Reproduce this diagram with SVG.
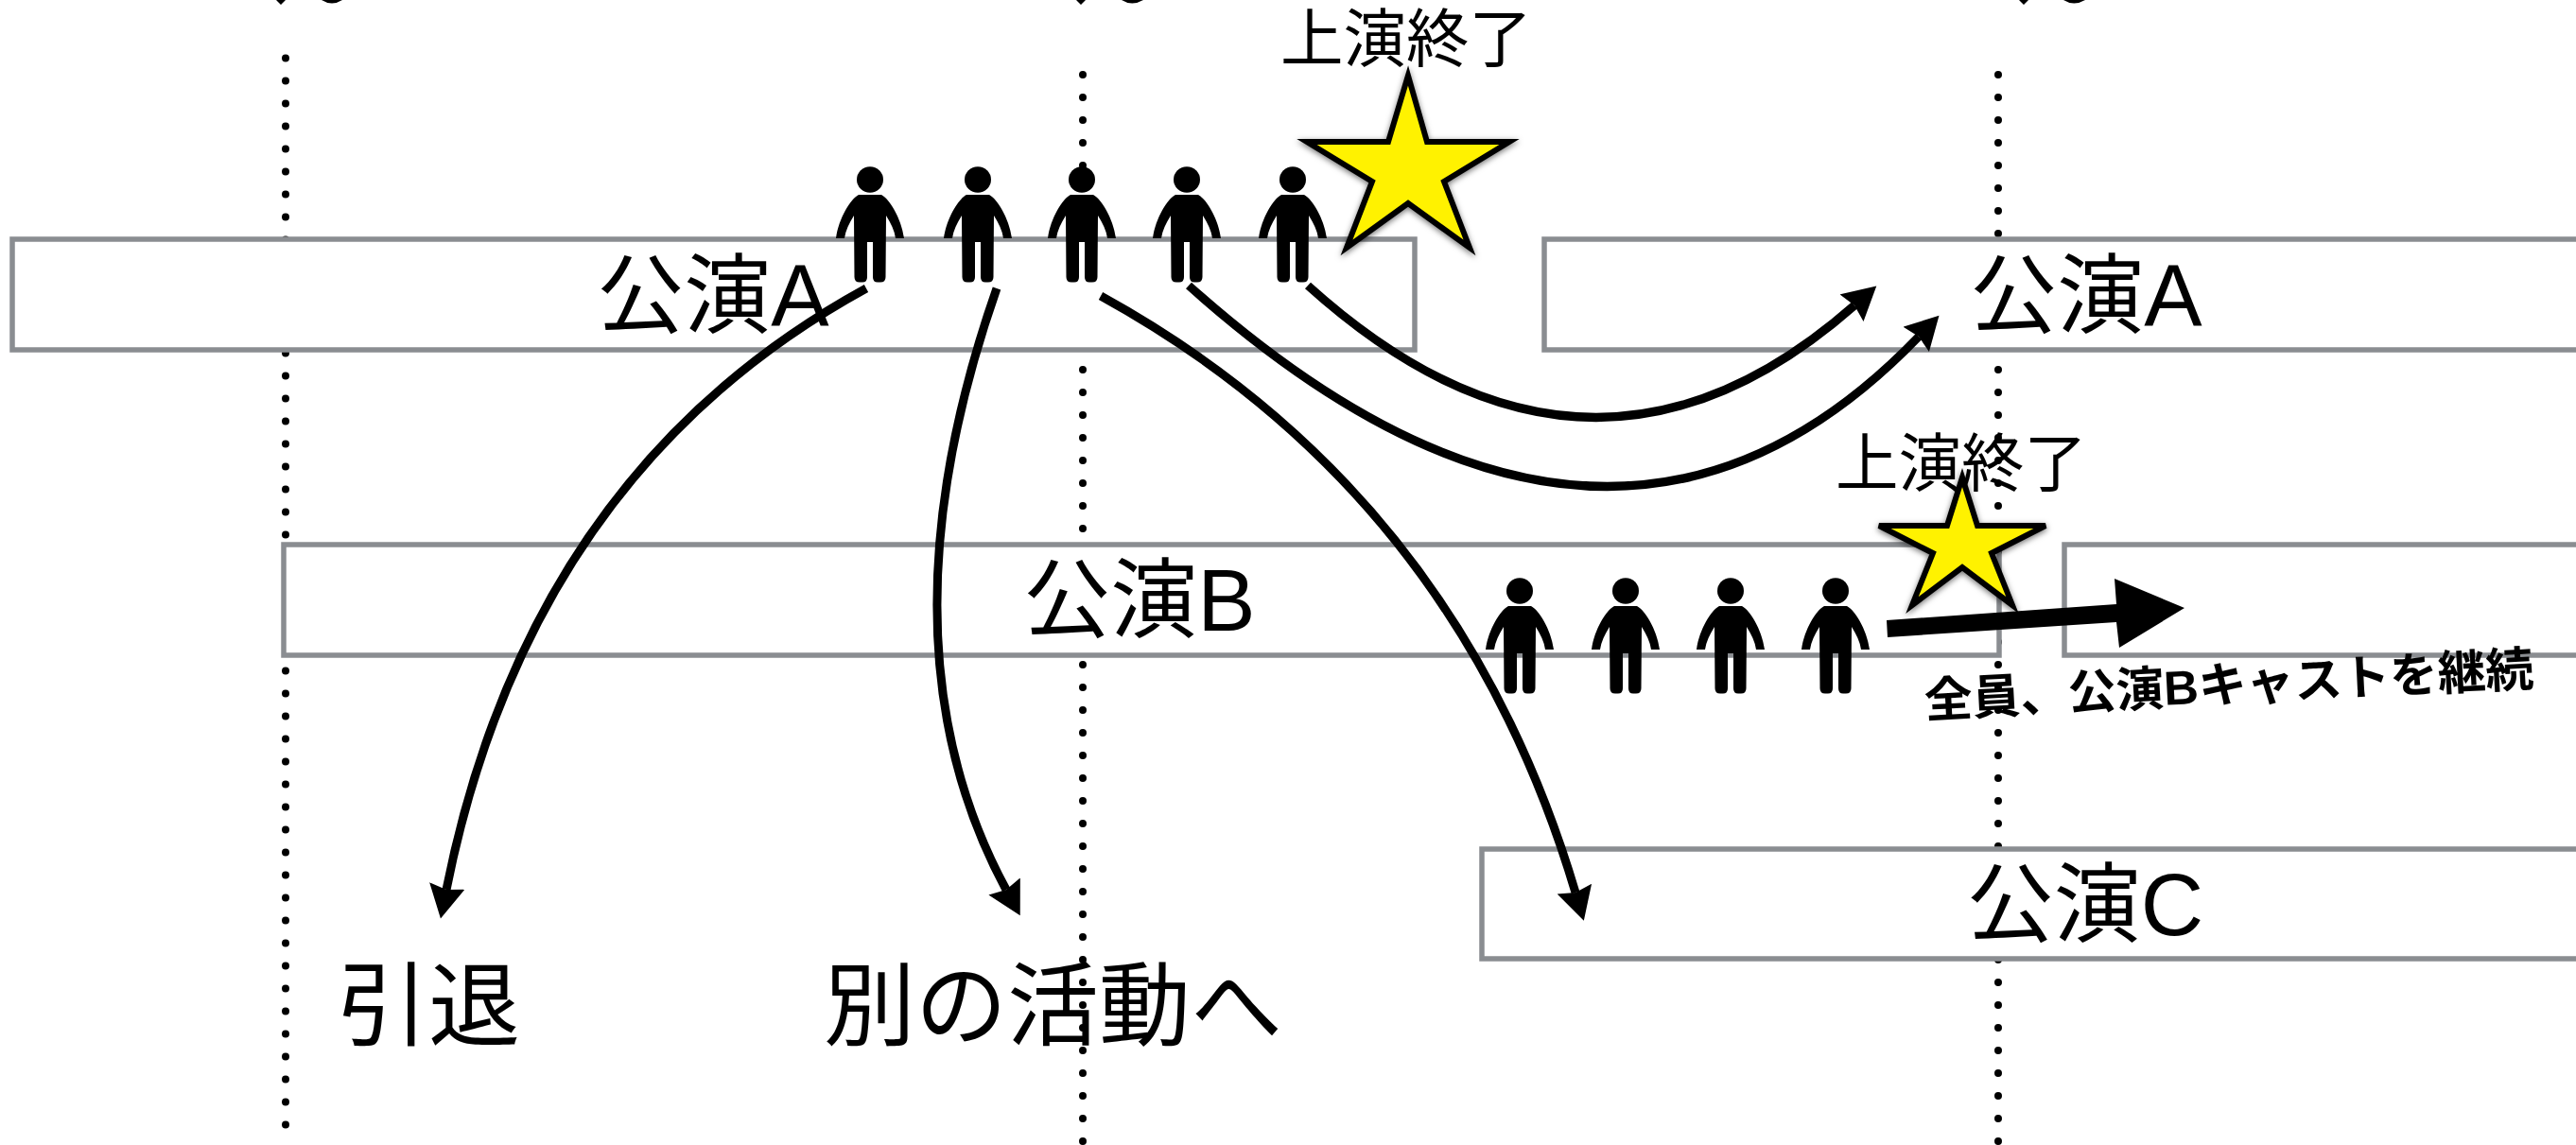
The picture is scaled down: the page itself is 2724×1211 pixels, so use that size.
<svg xmlns="http://www.w3.org/2000/svg" width="2724" height="1211" viewBox="0 0 2724 1211">
<style>
.dots{fill:none;stroke:#000;stroke-width:8;stroke-linecap:round;stroke-dasharray:0 24}
.box{fill:#fff;stroke:#8a8d91;stroke-width:5.500}
.t{font-family:"Liberation Sans","Noto Sans CJK JP",sans-serif;font-weight:400;fill:#000}
.big{font-size:92px}
.big2{font-size:97px}
.mid{font-size:66.5px}
.curve{fill:none;stroke:#000;stroke-width:9}
.star{fill:#fff200;stroke:#000;stroke-width:6;filter:url(#sh)}
</style>
<defs>
<filter id="sh" x="-20%" y="-20%" width="140%" height="140%"><feDropShadow dx="0" dy="2" stdDeviation="3" flood-color="#000" flood-opacity=".55"/></filter>
<marker id="ah" markerUnits="userSpaceOnUse" markerWidth="38" markerHeight="40" refX="4" refY="19" orient="auto"><path d="M0,0L35,19L0,38L4,19Z" fill="#000"/></marker>
<g id="person">
<ellipse cx="0" cy="0" rx="14" ry="13.7"/>
<path d="M-12,16L12,16C20,20 33,40 36,62L27,62C26,54 22,46 17,38L16.5,103Q16.5,108.500 11,108.500L8,108.500Q3,108.500 3,103L3,66L-3,66L-3,103Q-3,108.500 -8,108.500L-11,108.500Q-16.500,108.500 -16.500,103L-17,38C-22,46 -26,54 -27,62L-36,62C-33,40 -20,20 -12,16Z"/>
</g>
</defs>
<rect width="2724" height="1211" fill="#fff"/>
<g id="guides">
<path class="dots" d="M302,61.5V1211M1145,79V1211M2113,79V1211"/>
<path d="M292,0L297,5L302,0ZM340,0Q351,7 362,0ZM1138,0L1143,5L1148,0ZM1186,0Q1197,7 1209,0ZM2135,0L2140,5L2145,0ZM2182,0Q2193,7 2205,0Z"/>
</g>
<g id="box-a1"><rect class="box" x="13" y="253" width="1483" height="117"/><text class="t big" x="754" y="345" text-anchor="middle">公演A</text></g>
<g id="box-a2"><rect class="box" x="1633" y="253" width="1100" height="117"/><text class="t big" x="2206" y="345" text-anchor="middle">公演A</text></g>
<g id="box-b1"><rect class="box" x="300" y="576" width="1814" height="117"/><text class="t big" x="1205" y="667" text-anchor="middle">公演B</text></g>
<g id="box-b2"><rect class="box" x="2183" y="576" width="550" height="117"/></g>
<g id="box-c"><rect class="box" x="1567" y="898" width="1166" height="116"/><text class="t big" x="2205" y="989" text-anchor="middle">公演C</text></g>
<g id="people-a">
<use href="#person" x="920" y="190"/><use href="#person" x="1034" y="190"/><use href="#person" x="1144" y="190"/><use href="#person" x="1255" y="190"/><use href="#person" x="1367" y="190"/>
</g>
<g id="people-b">
<use href="#person" x="1607" y="625"/><use href="#person" x="1719" y="625"/><use href="#person" x="1830" y="625"/><use href="#person" x="1941" y="625"/>
</g>
<g id="star-1"><path class="star" d="M1489,80L1509,150L1596,150L1527,192L1554,262L1489,215L1424,262L1451,192L1382,150L1468,150Z"/><text class="t mid" x="1487" y="65" text-anchor="middle">上演終了</text></g>
<g id="star-2"><path class="star" d="M2075,505L2091,556L2163,556L2106,585L2128,640L2075,600L2022,640L2044,585L1987,556L2059,556Z"/><text class="t mid" x="2074" y="514" text-anchor="middle">上演終了</text></g>
<g id="connectors">
<path class="curve" marker-end="url(#ah)" d="M916,305Q560,500 472,941"/>
<path class="curve" marker-end="url(#ah)" d="M1054,305Q923,680 1064,941"/>
<path class="curve" marker-end="url(#ah)" d="M1164,313Q1540,520 1666,944"/>
<path class="curve" marker-end="url(#ah)" d="M1257,302Q1700,698 2029,356"/>
<path class="curve" marker-end="url(#ah)" d="M1383,302Q1680,570 1961,323"/>
<path d="M1995,656L2238,639L2236,612L2310,643L2241,685L2238,658L1996,674Z"/>
</g>
<g id="labels">
<text class="t big2" x="356" y="1098">引退</text>
<text class="t big2" x="871" y="1098">別の活動へ</text>
<text class="t" x="2036" y="759" font-size="50.700" style="font-weight:700" transform="rotate(-3 2036 759)">全員、公演Bキャストを継続</text>
</g>
</svg>
